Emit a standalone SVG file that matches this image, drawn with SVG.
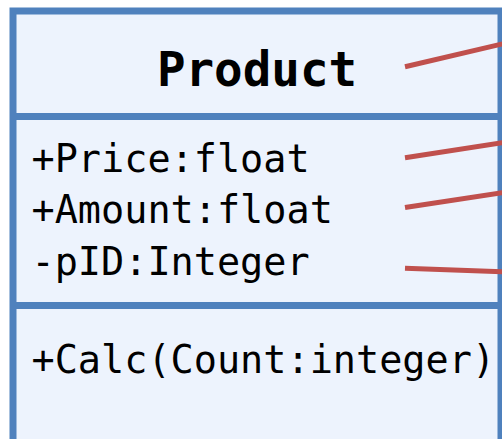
<svg xmlns="http://www.w3.org/2000/svg" width="502" height="439" viewBox="0 0 502 439">
<style>
.box{fill:#EDF3FD;stroke:#4F81BD;stroke-width:7}
.div{stroke:#4F81BD;stroke-width:7}
.t{font-family:"DejaVu Sans Mono","Liberation Mono",monospace;font-size:38.5px;fill:#000}
.h{font-family:"DejaVu Sans Mono","Liberation Mono",monospace;font-size:47.5px;font-weight:bold;fill:#000}
.c{stroke:#C0504D;stroke-width:5;fill:none}
</style>
<g id="product">
<rect class="box" x="13" y="11" width="488" height="440"/>
<line class="div" x1="13" y1="116.5" x2="501" y2="116.5"/>
<line class="div" x1="13" y1="305.5" x2="501" y2="305.5"/>
<text class="h" x="257" y="86" text-anchor="middle">Product</text>
<text class="t" x="31.5" y="171.7">+Price:float</text>
<text class="t" x="31.5" y="223.3">+Amount:float</text>
<text class="t" x="31.5" y="275">-pID:Integer</text>
<text class="t" x="31.5" y="373.3">+Calc(Count:integer)</text>
</g>
<g id="connectors">
<line class="c" x1="405" y1="66.7" x2="504" y2="43.5"/>
<line class="c" x1="405" y1="157.7" x2="504" y2="142.4"/>
<line class="c" x1="405" y1="207.5" x2="504" y2="192.4"/>
<line class="c" x1="405" y1="268.2" x2="504" y2="271.8"/>
</g>
</svg>
